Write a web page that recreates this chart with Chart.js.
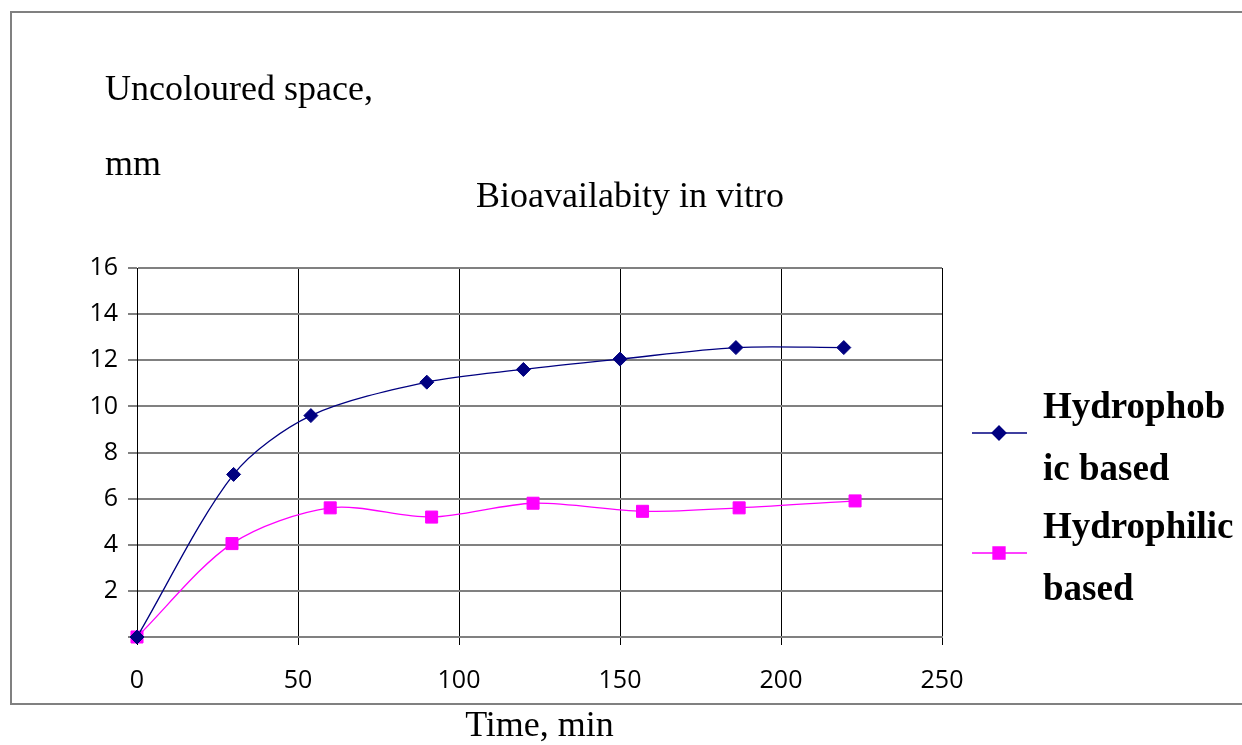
<!DOCTYPE html>
<html>
<head>
<meta charset="utf-8">
<script src="https://cdn.jsdelivr.net/npm/chart.js@4.4.1/dist/chart.umd.min.js"></script>
<style>
html, body { margin: 0; padding: 0; background: #fff; }
#wrap { width: 1242px; height: 745px; position: relative; }
</style>
</head>
<body>
<div id="wrap"><canvas id="chart" width="1242" height="745"></canvas></div>
<script>
// Values
const phobTime = [0, 30, 54, 90, 120, 150, 186, 219.5];
const phobSpace = [0, 7.05, 9.6, 11.05, 11.6, 12.05, 12.55, 12.55];
const philTime = [0, 29.5, 60, 91.5, 123, 157, 187, 223];
const philSpace = [0, 4.05, 5.6, 5.2, 5.8, 5.45, 5.6, 5.9];

const xTicks = [0, 50, 100, 150, 200, 250];
const yTicks = [0, 2, 4, 6, 8, 10, 12, 14, 16];
const seriesNames = [['Hydrophob', 'ic based'], ['Hydrophilic', 'based']];
const yTitleLines = ['Uncoloured space,', 'mm'];
const chartTitle = 'Bioavailabity in vitro';
const xTitle = 'Time, min';

const SERIF = '"Liberation Serif", "Times New Roman", serif';
const SANS = '"Open Sans", "Liberation Sans", sans-serif';

const toPoints = (xs, ys) => xs.map((x, i) => ({ x: x, y: ys[i] }));

// frame, free-standing texts and the two-line legend
const decor = {
    id: 'decor',
    beforeDraw(chart) {
        const c = chart.ctx;
        c.save();
        c.fillStyle = '#fff';
        c.fillRect(0, 0, chart.width, chart.height);
        c.strokeStyle = '#808080';
        c.lineWidth = 2;
        c.beginPath();
        c.moveTo(chart.width + 2, 12);
        c.lineTo(11, 12);
        c.lineTo(11, 704);
        c.lineTo(chart.width + 2, 704);
        c.stroke();
        c.restore();
    },
    afterDraw(chart) {
        const c = chart.ctx;
        const area = chart.chartArea;
        c.save();
        c.fillStyle = '#000';
        c.textBaseline = 'middle';
        c.font = '36px ' + SERIF;
        c.textAlign = 'left';
        c.fillText(yTitleLines[0], 105, 91);
        c.fillText(yTitleLines[1], 105, 166);
        c.textAlign = 'center';
        c.fillText(chartTitle, 630, 198);

        // legend
        const rows = [433, 553];
        chart.data.datasets.forEach((ds, i) => {
            const y = rows[i];
            c.strokeStyle = ds.borderColor;
            c.lineWidth = 1.3;
            c.beginPath();
            c.moveTo(area.right + 30, y);
            c.lineTo(area.right + 85, y);
            c.stroke();
            c.fillStyle = ds.pointBackgroundColor;
            Chart.helpers.drawPoint(c, {
                pointStyle: ds.pointStyle,
                radius: ds.pointRadius,
                rotation: 0,
                borderWidth: 1
            }, area.right + 57, y);
            c.fill();
            c.fillStyle = '#000';
            c.textAlign = 'left';
            c.textBaseline = 'alphabetic';
            c.font = 'bold 37px ' + SERIF;
            c.fillText(seriesNames[i][0], area.right + 101, y - 15);
            c.fillText(seriesNames[i][1], area.right + 101, y + 47);
        });
        c.restore();
    }
};

new Chart(document.getElementById('chart'), {
    type: 'line',
    data: {
        datasets: [{
            label: seriesNames[0].join(''),
            data: toPoints(phobTime, phobSpace),
            borderColor: '#000080',
            backgroundColor: '#000080',
            pointBackgroundColor: '#000080',
            pointBorderColor: '#000080',
            borderWidth: 1.3,
            pointStyle: 'rectRot',
            pointRadius: 7,
            pointBorderWidth: 1,
            tension: 0.3,
            clip: false
        }, {
            label: seriesNames[1].join(''),
            data: toPoints(philTime, philSpace),
            borderColor: '#ff00ff',
            backgroundColor: '#ff00ff',
            pointBackgroundColor: '#ff00ff',
            pointBorderColor: '#ff00ff',
            borderWidth: 1.3,
            pointStyle: 'rect',
            pointRadius: 8.5,
            pointBorderWidth: 1,
            tension: 0.3,
            clip: false
        }]
    },
    options: {
        responsive: false,
        animation: false,
        layout: { padding: { top: 268, right: 300, left: 0, bottom: 0 } },
        plugins: {
            legend: { display: false },
            title: { display: false },
            tooltip: { enabled: false }
        },
        scales: {
            x: {
                type: 'linear',
                min: xTicks[0],
                max: xTicks[xTicks.length - 1],
                afterBuildTicks: (s) => { s.ticks = xTicks.map(v => ({ value: v })); },
                afterFit: (s) => { s.height = 108; },
                ticks: {
                    color: '#000',
                    font: { family: SANS, size: 25 },
                    padding: 21,
                    maxRotation: 0
                },
                grid: { color: '#000', lineWidth: 1, tickLength: 8 },
                border: { color: '#808080', width: 2 },
                title: {
                    display: true,
                    text: xTitle,
                    color: '#000',
                    font: { family: SERIF, size: 36, lineHeight: 1 },
                    padding: { top: 0, bottom: 0 }
                }
            },
            y: {
                min: yTicks[0],
                max: yTicks[yTicks.length - 1],
                afterBuildTicks: (s) => { s.ticks = yTicks.map(v => ({ value: v })); },
                afterFit: (s) => { s.width = 137; },
                ticks: {
                    color: '#000',
                    font: { family: SANS, size: 25 },
                    padding: 10,
                    callback: (v) => (v === 0 ? '' : v)
                },
                grid: { color: '#808080', lineWidth: 2, tickLength: 9 },
                border: { color: '#000', width: 1 }
            }
        }
    },
    plugins: [decor]
});
</script>
</body>
</html>
